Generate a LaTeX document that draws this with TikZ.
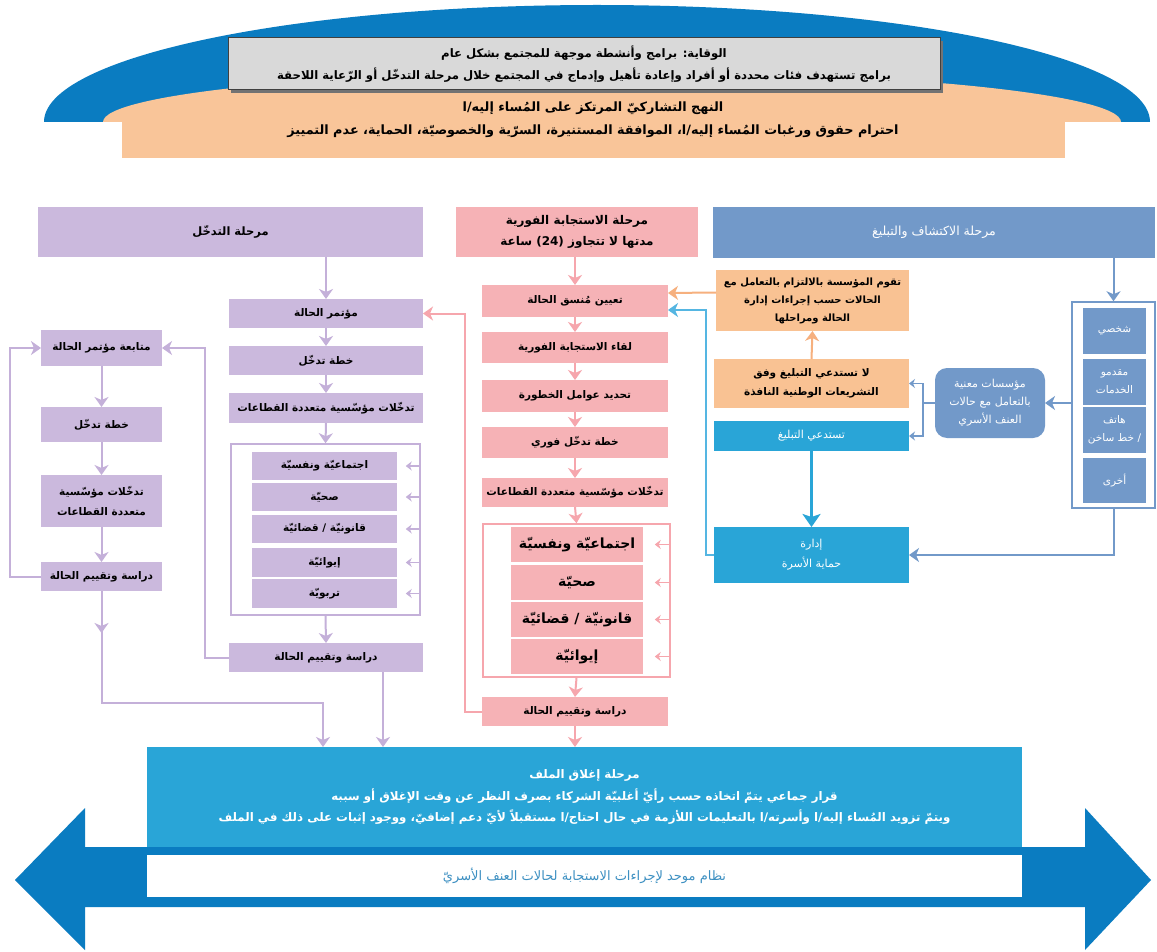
\documentclass[tikz,border=0pt]{standalone}
\usepackage{fontspec}
\newfontfamily\ar[Script=Arabic]{DejaVu Sans}
\TeXXeTstate=1
\usetikzlibrary{arrows.meta,calc}
\definecolor{dblue}{HTML}{0A7CC1}
\definecolor{peach}{HTML}{F9C599}
\definecolor{greyf}{HTML}{D9D9D9}
\definecolor{hblue}{HTML}{7299C9}
\definecolor{cyanb}{HTML}{29A5D7}
\definecolor{lblue}{HTML}{55B6E2}
\definecolor{pkf}{HTML}{F6B2B6}
\definecolor{pkl}{HTML}{F6A6AD}
\definecolor{puf}{HTML}{CBB9DD}
\definecolor{pul}{HTML}{C4B0D9}
\definecolor{obox}{HTML}{F9C293}
\definecolor{oline}{HTML}{F6B07E}
\definecolor{wtext}{HTML}{3D90C2}
\newcommand\RL[1]{\beginR #1\endR}
\newcommand\bx[7]{\node[#2, minimum width={#5-#3}, minimum height={#6-#4}] (#1) at ({(#3+#5)/2},{(#4+#6)/2}) {#7};}
\newcommand\fs[2]{\fontsize{#1}{#2}\selectfont}
\begin{document}
\begin{tikzpicture}[x=1pt,y=-1pt,
 txt/.style={inner sep=0pt, outer sep=0pt, align=center, font=\ar\bfseries\fs{10.5}{18}},
 wtxt/.style={inner sep=0pt, outer sep=0pt, align=center, text=white, font=\ar\fs{10.5}{18}},
 pubox/.style={txt, fill=puf},
 pkbox/.style={txt, fill=pkf},
 pkbig/.style={pkbox, font=\ar\bfseries\fs{14}{18}},
 obx/.style={txt, fill=obox, font=\ar\bfseries\fs{10}{18}},
 hbx/.style={wtxt, fill=hblue},
 cbx/.style={wtxt, fill=cyanb},
 pucont/.style={draw=pul, line width=1.5pt, fill=white, inner sep=0pt},
 pkcont/.style={draw=pkl, line width=1.5pt, fill=white, inner sep=0pt},
 hcont/.style={draw=hblue, line width=1.5pt, fill=white, inner sep=0pt},
 arrhead/.style={-{Stealth[length=10pt,width=14pt,inset=3pt]}},
 smhead/.style={-{Stealth[length=6pt,width=9pt,inset=2pt]}},
 puarr/.style={draw=pul, line width=2pt, arrhead},
 pkarr/.style={draw=pkl, line width=2pt, arrhead},
 pusm/.style={draw=pul, line width=1.2pt, smhead},
 pksm/.style={draw=pkl, line width=1.2pt, smhead},
 hbarr/.style={draw=hblue, line width=2pt, arrhead},
 hbline/.style={draw=hblue, line width=1.5pt},
 hbsm/.style={draw=hblue, line width=1.5pt, smhead},
 oarr/.style={draw=oline, line width=2pt, arrhead},
 carr/.style={draw=cyanb, line width=3pt, -{Stealth[length=13pt,width=18pt,inset=3pt]}},
 lbarr/.style={draw=lblue, line width=2pt, arrhead},
]
\useasboundingbox (0,0) rectangle (1157,952);
\fill[white] (0,0) rectangle (1157,952);
% ---- top dome
\begin{scope}
\clip (0,0) rectangle (1157,122);
\fill[dblue] (597,122) ellipse [x radius=553, y radius=117];
\fill[peach] (612,122) ellipse [x radius=509, y radius=51];
\end{scope}
\fill[peach] (122,121) rectangle (1065,158);
\fill[black!55] (231,41) rectangle (943,93);
\bx{gr}{txt, fill=greyf, draw=black!75, line width=1pt, font=\ar\bfseries\fs{11.7}{22}}{228}{38}{940}{90}{\RL{الوقاية: برامج وأنشطة موجهة للمجتمع بشكل عام}\\\RL{برامج تستهدف فئات محددة أو أفراد وإعادة تأهيل وإدماج في المجتمع خلال مرحلة التدخّل أو الرّعاية اللاحقة}}
\node[txt, font=\ar\bfseries\fs{12.8}{23}] (ot) at (593,120) {\RL{النهج التشاركيّ المرتكز على المُساء إليه/ا}\\\RL{احترام حقوق ورغبات المُساء إليه/ا، الموافقة المستنيرة، السرّية والخصوصيّة، الحماية، عدم التمييز}};
% ---- big double arrow
\fill[dblue] (15,880) -- (85,808) -- (85,847) -- (1085,847) -- (1085,808) -- (1151,880) -- (1085,950) -- (1085,907) -- (85,907) -- (85,950) -- cycle;
\bx{cl}{cbx, font=\ar\bfseries\fs{11.8}{21.5}}{147}{747}{1022}{847}{\RL{مرحلة إغلاق الملف}\\\RL{قرار جماعي يتمّ اتخاذه حسب رأيّ أغلبيّة الشركاء بصرف النظر عن وقت الإغلاق أو سببه}\\\RL{ويتمّ تزويد المُساء إليه/ا وأسرته/ا بالتعليمات اللأزمة في حال احتاج/ا مستقبلاً لأيّ دعم إضافيّ، ووجود إثبات على ذلك في الملف}}
\bx{ws}{wtxt, fill=white, text=wtext, font=\ar\fs{13}{18}}{147}{855}{1022}{897}{\RL{نظام موحد لإجراءات الاستجابة لحالات العنف الأسريّ}}
% ---- right column
\bx{rh}{hbx, font=\ar\fs{12.5}{18}}{713}{207}{1155}{258}{\RL{مرحلة الاكتشاف والتبليغ}}
\bx{rc}{hcont}{1072}{302}{1155}{508}{}
\bx{ri1}{hbx}{1083}{308}{1146}{354}{\RL{شخصي}}
\bx{ri2}{hbx}{1083}{359}{1146}{405}{\RL{مقدمو}\\\RL{الخدمات}}
\bx{ri3}{hbx}{1083}{407}{1146}{453}{\RL{هاتف}\\\RL{/ خط ساخن}}
\bx{ri4}{hbx}{1083}{458}{1146}{503}{\RL{أخرى}}
\bx{rr}{hbx, rounded corners=12pt, font=\ar\fs{11}{18}}{935}{368}{1045}{438}{\RL{مؤسسات معنية}\\\RL{بالتعامل مع حالات}\\\RL{العنف الأسري}}
\bx{o1}{obx}{716}{270}{909}{331}{\RL{تقوم المؤسسة بالالتزام بالتعامل مع}\\\RL{الحالات حسب إجراءات إدارة}\\\RL{الحالة ومراحلها}}
\bx{o2}{obx, font=\ar\bfseries\fs{10.5}{19}}{714}{359}{909}{408}{\RL{لا تستدعي التبليغ وفق}\\\RL{التشريعات الوطنية النافذة}}
\bx{b1}{cbx, font=\ar\fs{11}{18}}{714}{421}{909}{451}{\RL{تستدعي التبليغ}}
\bx{b2}{cbx, font=\ar\fs{11}{20}}{714}{527}{909}{583}{\RL{إدارة}\\\RL{حماية الأسرة}}
\coordinate (brk) at (923,403);
% ---- middle column
\bx{mh}{pkbox, font=\ar\bfseries\fs{12}{21}}{456}{207}{698}{257}{\RL{مرحلة الاستجابة الفورية}\\\RL{مدتها لا تتجاوز \beginL(24)\endL{} ساعة}}
\bx{m1}{pkbox}{482}{285}{668}{317}{\RL{تعيين مُنسق الحالة}}
\bx{m2}{pkbox}{482}{332}{668}{363}{\RL{لقاء الاستجابة الفورية}}
\bx{m3}{pkbox}{482}{380}{668}{412}{\RL{تحديد عوامل الخطورة}}
\bx{m4}{pkbox}{482}{427}{668}{458}{\RL{خطة تدخّل فوري}}
\bx{m5}{pkbox}{482}{478}{668}{507}{\RL{تدخّلات مؤسّسية متعددة القطاعات}}
\bx{mc}{pkcont}{483}{524}{670}{677}{}
\bx{mi1}{pkbig}{511}{527}{643}{562}{\RL{اجتماعيّة ونفسيّة}}
\bx{mi2}{pkbig}{511}{565}{643}{600}{\RL{صحيّة}}
\bx{mi3}{pkbig}{511}{602}{643}{637}{\RL{قانونيّة / قضائيّة}}
\bx{mi4}{pkbig}{511}{639}{643}{674}{\RL{إيوائيّة}}
\bx{m7}{pkbox}{482}{697}{668}{726}{\RL{دراسة وتقييم الحالة}}
% ---- purple column
\bx{ph}{pubox, font=\ar\bfseries\fs{11.5}{18}}{38}{207}{423}{257}{\RL{مرحلة التدخّل}}
\bx{p1}{pubox}{229}{299}{423}{328}{\RL{مؤتمر الحالة}}
\bx{p2}{pubox}{229}{346}{423}{375}{\RL{خطة تدخّل}}
\bx{p3}{pubox}{229}{393}{423}{423}{\RL{تدخّلات مؤسّسية  متعددة القطاعات}}
\bx{pc}{pucont}{231}{444}{420}{615}{}
\bx{pi1}{pubox}{252}{452}{397}{480}{\RL{اجتماعيّة ونفسيّة}}
\bx{pi2}{pubox}{252}{483}{397}{511}{\RL{صحيّة}}
\bx{pi3}{pubox}{252}{515}{397}{543}{\RL{قانونيّة / قضائيّة}}
\bx{pi4}{pubox}{252}{548}{397}{577}{\RL{إيوائيّة}}
\bx{pi5}{pubox}{252}{579}{397}{608}{\RL{تربويّة}}
\bx{p4}{pubox}{229}{643}{423}{672}{\RL{دراسة وتقييم الحالة}}
\bx{l1}{pubox}{41}{330}{162}{366}{\RL{متابعة مؤتمر الحالة}}
\bx{l2}{pubox}{41}{407}{162}{442}{\RL{خطة تدخّل}}
\bx{l3}{pubox, font=\ar\bfseries\fs{10.5}{20}}{41}{475}{162}{527}{\RL{تدخّلات مؤسّسية}\\\RL{متعددة القطاعات}}
\bx{l4}{pubox}{41}{562}{162}{591}{\RL{دراسة وتقييم الحالة}}
% ---- connectors right
\draw[hbarr] (rc.north |- rh.south) -- (rc.north);
\draw[hbarr] (rc.west |- rr.east) -- (rr.east);
\draw[hbline] (rr.west) -- (brk);
\draw[hbsm] (brk) |- (o2.east);
\draw[hbsm] (brk) |- (b1.east);
\draw[oarr] (o2.north) -- (o1.south);
\draw[carr] (b1.south) -- (b2.north);
\draw[hbarr] (rc.south) |- (b2.east);
\draw[lbarr] (b2.west) -- ++(-8,0) |- ([yshift=-9pt]m1.east);
\draw[oarr] ([yshift=8pt]o1.west) -- ([yshift=8pt]m1.east);
% ---- connectors middle
\draw[pkarr] (m1.north |- mh.south) -- (m1.north);
\draw[pkarr] (m1.south) -- (m2.north);
\draw[pkarr] (m2.south) -- (m3.north);
\draw[pkarr] (m3.south) -- (m4.north);
\draw[pkarr] (m4.south) -- (m5.north);
\draw[pkarr] (m5.south) -- (mc.north);
\draw[pkarr] (mc.south) -- (m7.north);
\draw[pkarr] (m7.south) -- (m7.south |- cl.north);
\foreach \i in {1,...,4} \draw[pksm] (mc.east |- mi\i.east) -- ++(-16,0);
\draw[pkarr] (m7.west) -| ($(p1.east)+(42,0)$) -- (p1.east);
% ---- connectors purple
\draw[puarr] (p1.north |- ph.south) -- (p1.north);
\draw[puarr] (p1.south) -- (p2.north);
\draw[puarr] (p2.south) -- (p3.north);
\draw[puarr] (p3.south) -- (pc.north);
\draw[puarr] (pc.south) -- (p4.north);
\foreach \i in {1,...,5} \draw[pusm] (pc.east |- pi\i.east) -- ++(-15,0);
\draw[puarr] ([xshift=57pt]p4.south) -- ([xshift=57pt]p4.south |- cl.north);
\draw[puarr] (p4.west) -- ++(-24,0) |- (l1.east);
\draw[puarr] (l1.south) -- (l2.north);
\draw[puarr] (l2.south) -- (l3.north);
\draw[puarr] (l3.south) -- (l4.north);
\draw[puarr] (l4.south) -- ++(0,42);
\draw[puarr] ($(l4.south)+(0,38)$) |- (323,703) -- (323,0 |- cl.north);
\draw[puarr] (l4.west) -- ++(-31,0) |- (l1.west);
\end{tikzpicture}
\end{document}
